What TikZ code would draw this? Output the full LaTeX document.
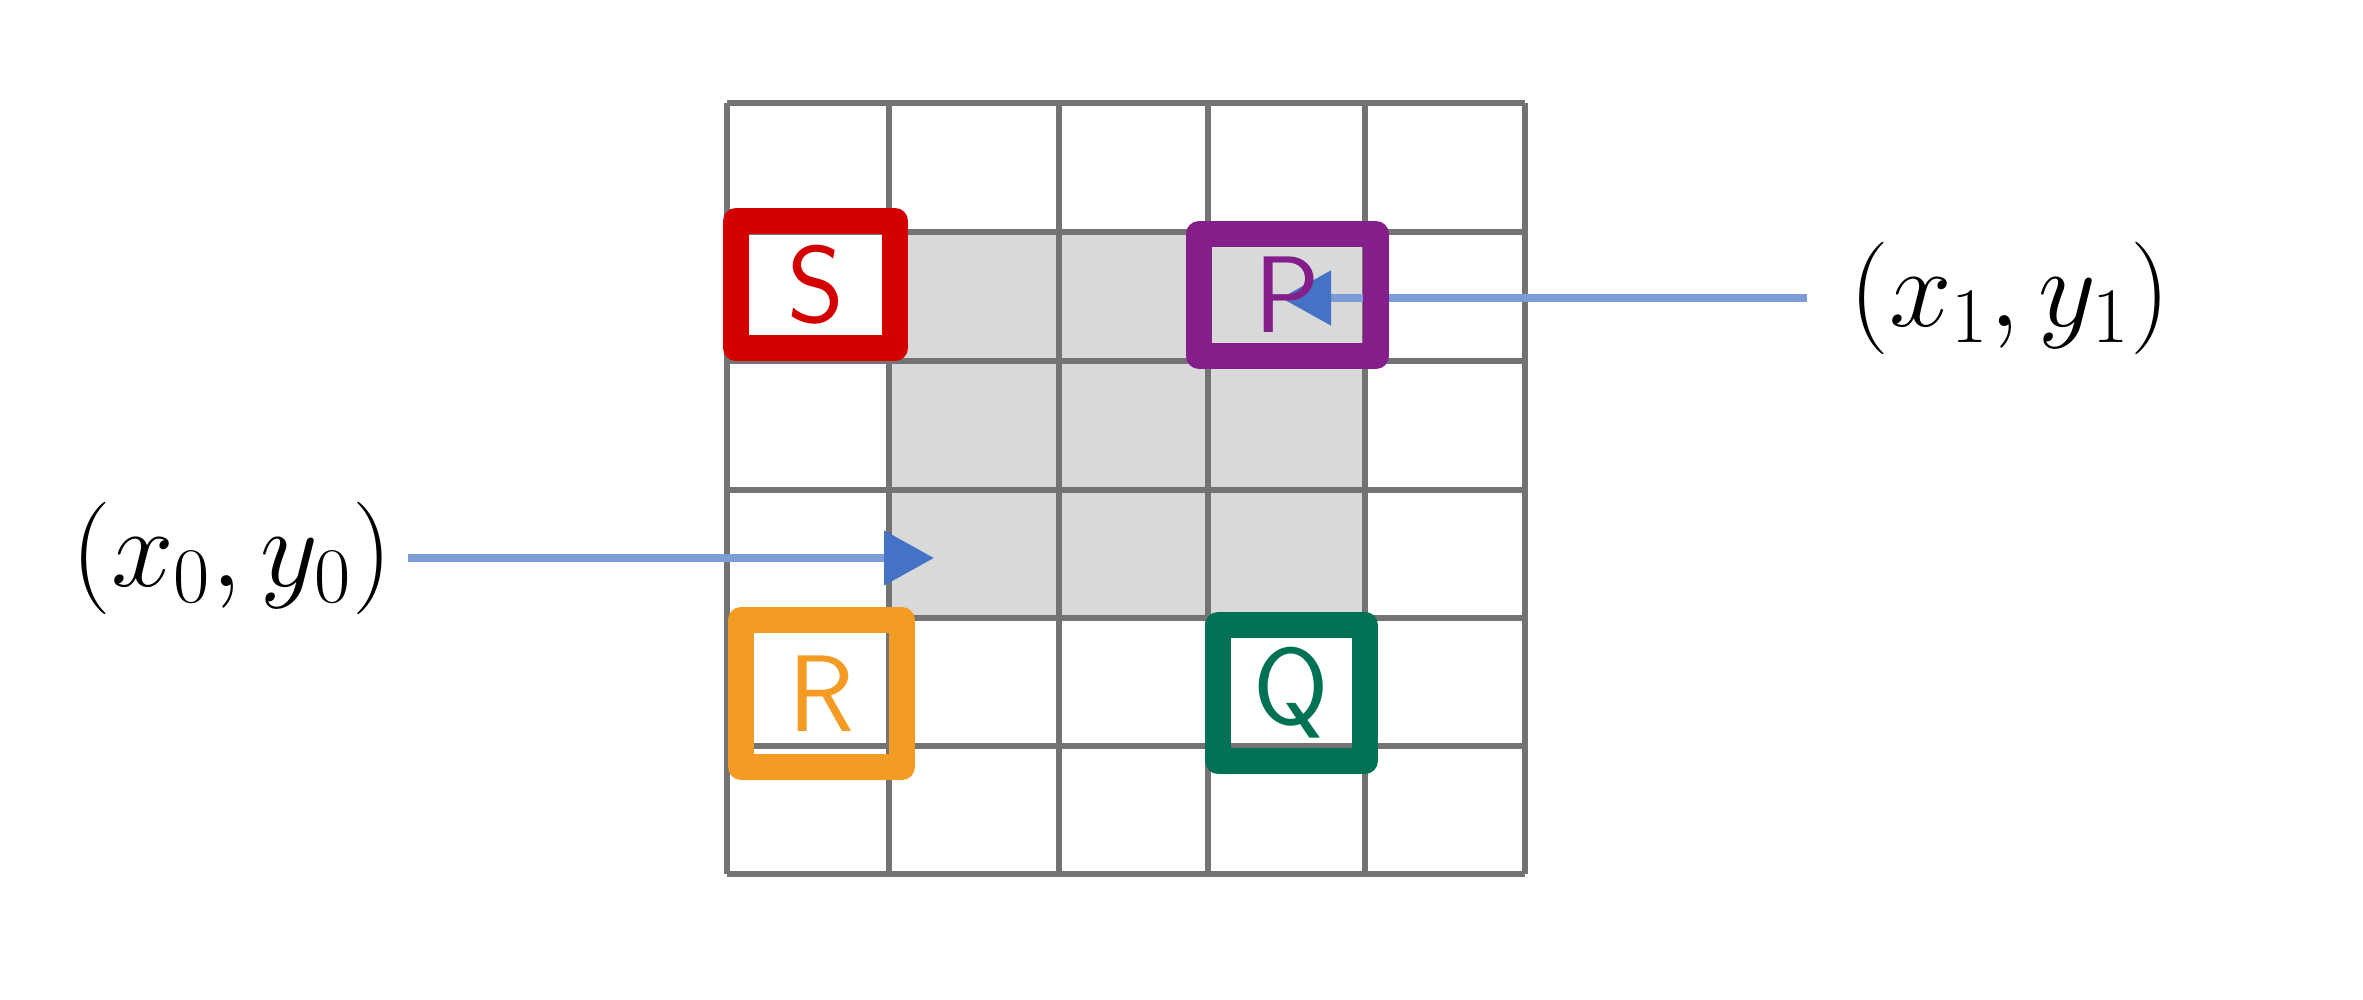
\RequirePackage{fix-cm}
\documentclass[tikz,border=0pt]{standalone}
\usepackage{tikz}
\usetikzlibrary{arrows.meta}
\definecolor{sred}{RGB}{212,0,0}
\definecolor{ppurple}{RGB}{132,30,138}
\definecolor{rorange}{RGB}{243,155,34}
\definecolor{qgreen}{RGB}{0,114,84}
\definecolor{ptrblue}{RGB}{68,114,196}
\tikzstyle{gridline}=[draw, color=black!55, line width=1.8pt]
\tikzstyle{cornerbox}=[draw, line width=0.26cm, line join=round, inner sep=0pt,
	font=\sffamily\fontsize{31}{31}\selectfont]
\tikzstyle{coordlbl}=[inner sep=0pt, font=\fontsize{32}{38}\selectfont]
\tikzstyle{line}=[draw, line width=0.08cm, color=ptrblue!70,
	-{Triangle[length=0.5cm,width=0.53cm,color=ptrblue]}]
\newcommand{\cornerBox}[5]{node (#1) [cornerbox, draw=#2, text=#2,
	minimum width=#3, minimum height=#4] {#5}}

\begin{document}
\begin{tikzpicture}
	\useasboundingbox (0,0) rectangle (23.63,10);

	% shaded cells
	\fill[black!15] (8.89,3.82) rectangle (13.65,7.68);
	% grid
	\foreach \x in {7.27,8.89,10.59,12.08,13.65,15.25}
		\path[gridline] (\x,1.26) -- (\x,8.97);
	\foreach \y in {1.26,2.54,3.82,5.10,6.39,7.68,8.97}
		\path[gridline] (7.27,\y) -- (15.25,\y);

	% labels and arrows
	\coordinate (p0) at (9.34,4.42);
	\coordinate (p1) at (12.81,7.02);
	\path (2.32,4.42) node (l0) [coordlbl] {$(x_0, y_0)$};
	\path (20.10,7.02) node (l1) [coordlbl] {$(x_1, y_1)$};
	\path [line, shorten <=0.15cm] (l0) -- (p0);
	\path [line, shorten <=0.42cm] (l1) -- (p1);

	% corner boxes
	\path (8.155,7.155) \cornerBox{s}{sred}{1.59cm}{1.27cm}{S};
	\path (12.875,7.05) \cornerBox{p}{ppurple}{1.77cm}{1.22cm}{P};
	\path (8.215,3.065) \cornerBox{r}{rorange}{1.61cm}{1.47cm}{R};
	\path (12.915,3.07) \cornerBox{q}{qgreen}{1.47cm}{1.36cm}{Q};

\end{tikzpicture}
\end{document}
